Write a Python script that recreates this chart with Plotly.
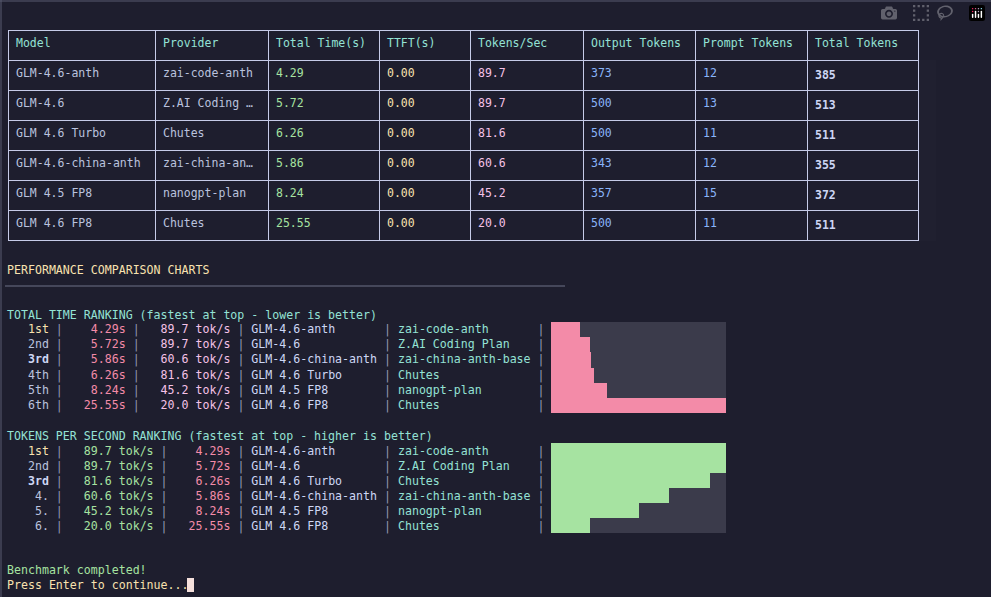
import plotly.graph_objects as go

W, H = 991, 597
BG = "#1e1e2e"
MONO = "DejaVu Sans Mono"

models = ["GLM-4.6-anth", "GLM-4.6", "GLM 4.6 Turbo", "GLM-4.6-china-anth", "GLM 4.5 FP8", "GLM 4.6 FP8"]
providers = ["zai-code-anth", "Z.AI Coding Plan", "Chutes", "zai-china-anth-base", "nanogpt-plan", "Chutes"]
total_time = [4.29, 5.72, 6.26, 5.86, 8.24, 25.55]
ttft = [0.00, 0.00, 0.00, 0.00, 0.00, 0.00]
tps = [89.7, 89.7, 81.6, 60.6, 45.2, 20.0]
out_tokens = [373, 500, 500, 343, 357, 500]
prompt_tokens = [12, 13, 11, 12, 15, 11]
total_tokens = [385, 513, 511, 355, 372, 511]

time_ranks = ["1st", "2nd", "3rd", "4th", "5th", "6th"]
tps_ranks = ["1st", "2nd", "3rd", "4.", "5.", "6."]

C_TEAL = "#94e2d5"
C_GREEN = "#a6e3a1"
C_YELLOW = "#f9e2af"
C_PINK = "#f5c2e7"
C_RED = "#f38ba8"
C_BLUE = "#89b4fa"
C_TEXT = "#cdd6f4"
C_SUB = "#bac2de"
C_PIPE = "#9399b2"


def px(x):
    return x / W


def py(y):
    return 1 - y / H


def nb(s):
    return str(s).replace(" ", "\u00a0")


def trunc(s):
    return s if len(s) <= 13 else s[:12] + "…"


def span(s, color, bold=False):
    t = f"<span style='color:{color}'>{nb(s)}</span>"
    return f"<b>{t}</b>" if bold else t


def rank_span(r):
    if r == "1st":
        return span(r.rjust(6), C_YELLOW)
    if r == "3rd":
        return span(r.rjust(6), C_TEXT, True)
    return span(r.rjust(6), C_SUB)


fig = go.Figure()

# summary table
headers = ["Model", "Provider", "Total Time(s)", "TTFT(s)", "Tokens/Sec",
           "Output Tokens", "Prompt Tokens", "Total Tokens"]
fig.add_trace(go.Table(
    domain=dict(x=[px(8), px(918)], y=[py(241), py(30)]),
    columnwidth=[147, 113, 111, 91, 113, 112, 112, 111],
    header=dict(values=[nb(h) for h in headers],
                fill_color=BG, line_color="#c6cbe8", align="left", height=30,
                font=dict(family=MONO, size=11.5, color=C_TEAL)),
    cells=dict(values=[[nb(m) for m in models], [nb(trunc(p)) for p in providers],
                       [f"{v:.2f}" for v in total_time], [f"{v:.2f}" for v in ttft],
                       [f"{v:.1f}" for v in tps], out_tokens, prompt_tokens,
                       [f"<b>{v}</b>" for v in total_tokens]],
               fill_color=BG, line_color="#c6cbe8", align="left", height=30,
               font=dict(family=MONO, size=11.5,
                         color=[C_SUB, C_SUB, C_GREEN, C_YELLOW, C_PINK, C_BLUE, C_BLUE, C_TEXT])),
))

lines = []  # (y, html)
lines.append((270, span("PERFORMANCE COMPARISON CHARTS", C_YELLOW)))
lines.append((315, span("TOTAL TIME RANKING (fastest at top - lower is better)", C_TEAL)))
by_time = sorted(range(len(models)), key=lambda i: total_time[i])
for k, i in enumerate(by_time):
    s = (rank_span(time_ranks[k]) + span(" |", C_PIPE)
         + span(" " + f"{total_time[i]:.2f}s".rjust(8), C_RED) + span(" |", C_PIPE)
         + span(" " + f"{tps[i]:.1f} tok/s".rjust(12), C_PINK) + span(" |", C_PIPE)
         + span(" " + models[i].ljust(18), C_TEXT) + span(" |", C_PIPE)
         + span(" " + providers[i].ljust(19), C_TEAL) + span(" |", C_PIPE))
    lines.append((330 + 15 * k, s))

lines.append((436, span("TOKENS PER SECOND RANKING (fastest at top - higher is better)", C_TEAL)))
by_tps = sorted(range(len(models)), key=lambda i: -tps[i])
for k, i in enumerate(by_tps):
    s = (rank_span(tps_ranks[k]) + span(" |", C_PIPE)
         + span(" " + f"{tps[i]:.1f} tok/s".rjust(12), C_GREEN) + span(" |", C_PIPE)
         + span(" " + f"{total_time[i]:.2f}s".rjust(8), C_RED) + span(" |", C_PIPE)
         + span(" " + models[i].ljust(18), C_TEXT) + span(" |", C_PIPE)
         + span(" " + providers[i].ljust(19), C_TEAL) + span(" |", C_PIPE))
    lines.append((451 + 15 * k, s))

lines.append((570, span("Benchmark completed!", C_GREEN)))
lines.append((585, span("Press Enter to continue...", C_YELLOW)))

for y, s in lines:
    fig.add_annotation(x=px(5), y=py(y), xref="paper", yref="paper", text=s,
                       showarrow=False, xanchor="left", yanchor="middle",
                       font=dict(family=MONO, size=11.6, color=C_TEXT))

# bar charts
fig.add_trace(go.Bar(x=[total_time[i] for i in by_time], y=[models[i] + "|" + str(k) for k, i in enumerate(by_time)],
                     orientation="h", marker=dict(color="#f38ba8", line_width=0), width=1,
                     xaxis="x", yaxis="y", hoverinfo="x"))
fig.add_trace(go.Bar(x=[tps[i] for i in by_tps], y=[models[i] + "|" + str(k) for k, i in enumerate(by_tps)],
                     orientation="h", marker=dict(color="#a6e3a1", line_width=0), width=1,
                     xaxis="x2", yaxis="y2", hoverinfo="x"))

ax = dict(showgrid=False, zeroline=False, showticklabels=False, fixedrange=True)
fig.update_layout(
    width=W, height=H, margin=dict(l=0, r=0, t=0, b=0),
    paper_bgcolor=BG, plot_bgcolor="#3b3b4b", showlegend=False, bargap=0,
    xaxis=dict(domain=[px(551), px(726)], range=[0, max(total_time)], anchor="y", **ax),
    yaxis=dict(domain=[py(413), py(322)], autorange="reversed", anchor="x", **ax),
    xaxis2=dict(domain=[px(551), px(726)], range=[0, max(tps)], anchor="y2", **ax),
    yaxis2=dict(domain=[py(533), py(443)], autorange="reversed", anchor="x2", **ax),
    shapes=[
        dict(type="line", xref="paper", yref="paper", x0=px(5), x1=px(565), y0=py(286), y1=py(286),
             line=dict(color="#6c7086", width=1)),
        dict(type="rect", xref="paper", yref="paper", x0=px(187), x1=px(194), y0=py(592), y1=py(578),
             fillcolor="#f5e0dc", line_width=0),
        dict(type="line", xref="paper", yref="paper", x0=px(1), x1=px(1), y0=0, y1=1,
             line=dict(color="#585b70", width=1)),
        dict(type="line", xref="paper", yref="paper", x0=0, x1=1, y0=py(1), y1=py(1),
             line=dict(color="#585b70", width=1)),
    ],
)

fig.write_html("out.html",
               post_script="document.body.style.margin='0';document.body.style.overflow='hidden';")
